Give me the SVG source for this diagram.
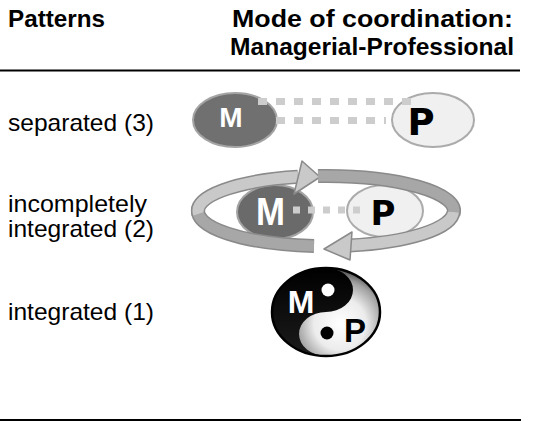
<svg xmlns="http://www.w3.org/2000/svg" width="540" height="421" viewBox="0 0 540 421">
<defs>
<radialGradient id="yinWhite" gradientUnits="userSpaceOnUse" cx="340" cy="324" r="58">
<stop offset="0" stop-color="#ffffff"/>
<stop offset="0.45" stop-color="#ececec"/>
<stop offset="0.75" stop-color="#a0a0a0"/>
<stop offset="1" stop-color="#2a2a2a"/>
</radialGradient>
<linearGradient id="yinBlack" x1="0" y1="0" x2="0" y2="1">
<stop offset="0" stop-color="#000000"/>
<stop offset="1" stop-color="#1c1c1c"/>
</linearGradient>
</defs>
<style>
.hdr{font-family:"Liberation Sans",Arial,sans-serif;font-weight:bold;font-size:24px;fill:#000}
.lbl{font-family:"Liberation Sans",Arial,sans-serif;font-size:24px;fill:#000}
.rule{stroke:#000;stroke-width:2}
.mEll{fill:#707070;stroke:#a4a4a4;stroke-width:2}
.pEll{fill:#f0f0f0;stroke:#ababab;stroke-width:2}
.mTxt{font-family:"Liberation Sans",Arial,sans-serif;font-weight:bold;fill:#fff;text-anchor:middle}
.pTxt{font-family:"DejaVu Sans",Verdana,sans-serif;font-weight:bold;fill:#000;text-anchor:middle}
.dots{fill:none;stroke:#cdcdcd}
.bandOut{fill:none;stroke:#8a8a8a;stroke-width:14}
.bandLight{fill:none;stroke:#c9c9c9;stroke-width:11}
.bandMid{fill:none;stroke:#a7a7a7;stroke-width:11}
.headLight{fill:#c9c9c9;stroke:#8a8a8a;stroke-width:1.5;stroke-linejoin:round}
</style>
<rect width="540" height="421" fill="#fff"/>

<g id="header">
<text class="hdr" x="8" y="27" textLength="97" lengthAdjust="spacingAndGlyphs">Patterns</text>
<text class="hdr" x="232" y="27" textLength="281" lengthAdjust="spacingAndGlyphs">Mode of coordination:</text>
<text class="hdr" x="230" y="55" textLength="284" lengthAdjust="spacingAndGlyphs">Managerial-Professional</text>
<line class="rule" x1="0" y1="70.5" x2="520" y2="70.5"/>
</g>

<g id="labels">
<text class="lbl" x="8" y="131" textLength="146" lengthAdjust="spacingAndGlyphs">separated (3)</text>
<text class="lbl" x="8" y="212" textLength="139" lengthAdjust="spacingAndGlyphs">incompletely</text>
<text class="lbl" x="8" y="237" textLength="146" lengthAdjust="spacingAndGlyphs">integrated (2)</text>
<text class="lbl" x="8" y="320" textLength="146" lengthAdjust="spacingAndGlyphs">integrated (1)</text>
</g>

<g id="row3-M">
<ellipse class="mEll" cx="235" cy="120" rx="42" ry="27"/>
<text class="mTxt" x="231" y="127" font-size="28">M</text>
</g>
<g id="row3-P">
<ellipse class="pEll" cx="433" cy="120" rx="41" ry="27"/>
<text class="pTxt" x="421" y="135" font-size="37">P</text>
</g>

<g id="row2-M">
<ellipse class="mEll" cx="275" cy="212" rx="38" ry="27" style="fill:#6a6a6a"/>
<text class="mTxt" x="270.5" y="225" font-size="38" textLength="29" lengthAdjust="spacingAndGlyphs">M</text>
</g>
<g id="row2-P">
<ellipse class="pEll" cx="385" cy="211" rx="38" ry="26"/>
<text class="pTxt" x="383" y="225" font-size="34">P</text>
</g>

<g id="connectors">
<line class="dots" x1="258" y1="101.5" x2="412" y2="101.5" stroke-width="7" stroke-dasharray="9 9"/>
<line class="dots" x1="276" y1="120.5" x2="386" y2="120.5" stroke-width="7" stroke-dasharray="9 9"/>
<line class="dots" x1="293" y1="210" x2="361" y2="210" stroke-width="7" stroke-dasharray="7 8"/>

<g id="loop">
<path class="bandOut" d="M 314 246 A 128 35 0 0 1 198.5 208"/>
<path class="bandMid" d="M 314 246 A 128 35 0 0 1 198.5 208"/>
<path class="bandOut" d="M 198.5 214 A 128 35 0 0 1 298 176.8"/>
<path class="bandLight" d="M 198.5 214 A 128 35 0 0 1 298 176.8"/>
<polygon class="headLight" points="302,161 320,177 294,194"/>
<path class="bandOut" d="M 318 176 A 128 35 0 0 1 453.5 214"/>
<path class="bandMid" d="M 318 176 A 128 35 0 0 1 453.5 214"/>
<path class="bandOut" d="M 453.5 212 A 128 35 0 0 1 349 245.5"/>
<path class="bandLight" d="M 453.5 212 A 128 35 0 0 1 349 245.5"/>
<polygon class="headLight" points="352,232 324,249 350,260"/>
</g>
</g>

<g id="row1-yinyang">
<ellipse cx="326" cy="312" rx="54" ry="44" fill="url(#yinWhite)"/>
<path d="M 326 268 A 54 44 0 0 0 326 356 A 27 22 0 0 1 326 312 A 27 22 0 0 0 326 268 Z" fill="url(#yinBlack)"/>
<circle cx="328" cy="290" r="6.5" fill="#fff"/>
<circle cx="327" cy="333" r="6.5" fill="#000"/>
<ellipse cx="326" cy="312" rx="54" ry="44" fill="none" stroke="#000" stroke-width="2.5"/>
<text class="mTxt" x="301" y="313" font-size="32">M</text>
<text x="355" y="342" font-family="Liberation Sans, Arial, sans-serif" font-weight="bold" font-size="33" fill="#000" text-anchor="middle">P</text>
</g>

<line class="rule" x1="0" y1="420" x2="521" y2="420"/>
</svg>
